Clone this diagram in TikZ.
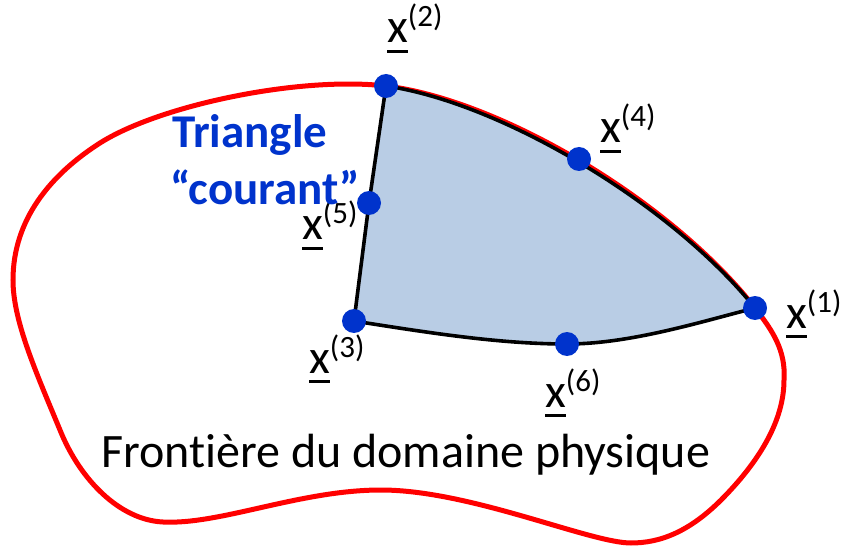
\documentclass[tikz,border=0pt]{standalone}
\usepackage{fontspec}
\setmainfont[Ligatures=NoCommon]{Carlito}
\definecolor{dotblue}{HTML}{0033CC}
\definecolor{trifill}{HTML}{B9CDE5}
\definecolor{bred}{HTML}{FF0000}
\newcommand\myux{\setbox0\hbox{x}\rlap{\rule[-10pt]{\wd0}{3.2pt}}x}
\newcommand\mylab[1]{\myux\raisebox{16pt}{\fontsize{31}{32}\selectfont(#1)}}
\begin{document}
\begin{tikzpicture}[x=1pt,y=-1pt,
  ptdot/.style={circle,fill=dotblue,minimum size=24pt,inner sep=0pt},
  lab/.style={anchor=base west,inner sep=0pt,font=\fontsize{48}{52}\selectfont},
  bluetext/.style={anchor=base west,inner sep=0pt,text=dotblue,font=\bfseries\fontsize{47}{52}\selectfont},
  redline/.style={draw=bred,line width=5pt},
  edge/.style={draw=black,line width=3.6pt,line join=round}]
\useasboundingbox (0,0) rectangle (841,548);
\coordinate (X1) at (755,308);
\coordinate (X2) at (386,86);
\coordinate (X3) at (354,321);
\coordinate (X4) at (579,159);
\coordinate (X5) at (369,203);
\coordinate (X6) at (567,344);
% boundary
\draw[redline] (X2) .. controls (500,100) and (670,200) .. (X1)
 .. controls (772,330) and (786,350) .. (784,380)
 .. controls (784,420) and (760,460) .. (724,497)
 .. controls (690,532) and (660,543) .. (631,543)
 .. controls (590,543) and (470,490) .. (381,490)
 .. controls (300,490) and (220,525) .. (163,522)
 .. controls (120,520) and (80,480) .. (60,430)
 .. controls (35,370) and (13,320) .. (13,280)
 .. controls (13,220) and (50,175) .. (100,143)
 .. controls (160,105) and (300,76) .. (X2) -- cycle;
% triangle
\path[fill=trifill,edge] (X2) .. controls (500,102.5) and (670,202.5) .. (X1)
 .. controls (700,322) and (630,344) .. (X6)
 .. controls (500,344) and (430,333) .. (X3) -- (X5) -- cycle;
% nodes
\foreach \i in {1,...,6} \node[ptdot] (p\i) at (X\i) {};
\node[lab] (l1) at (786,328) {\mylab{1}};
\node[lab] (l2) at (387,43) {\mylab{2}};
\node[lab] (l3) at (309,373) {\mylab{3}};
\node[lab] (l4) at (600,143) {\mylab{4}};
\node[lab] (l5) at (302,240) {\mylab{5}};
\node[lab] (l6) at (545,407) {\mylab{6}};
\node[bluetext] (t1) at (172,148) {Triangle};
\node[bluetext] (t2) at (170,205) {“courant”};
\node[lab] (front) at (101,467) {Frontière du domaine physique};
\end{tikzpicture}
\end{document}
